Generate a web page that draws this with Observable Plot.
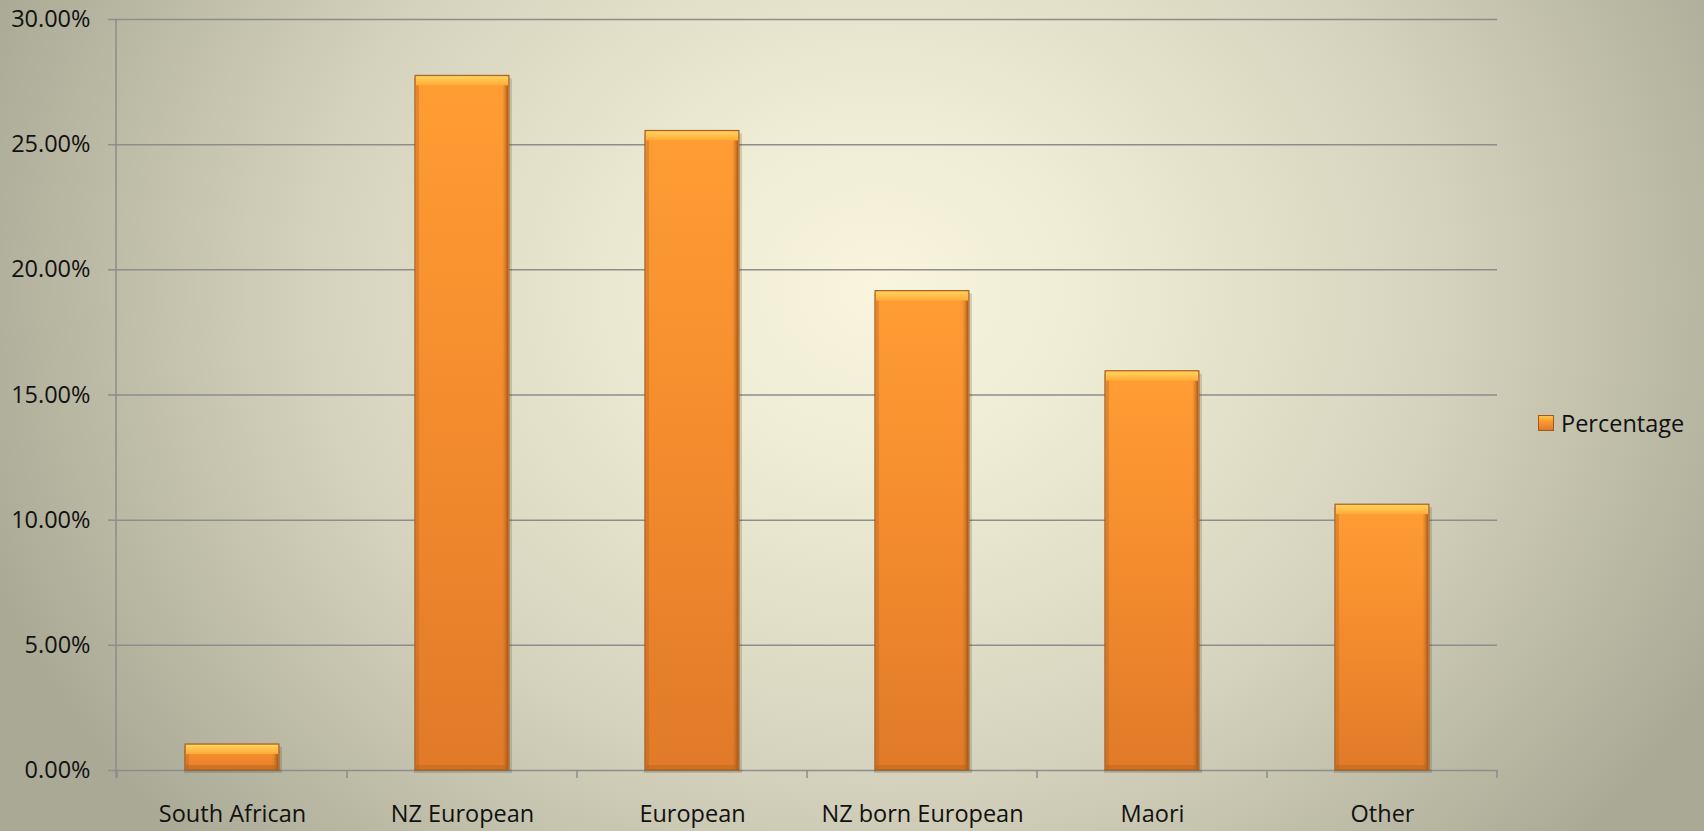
<!DOCTYPE html>
<html>
<head>
<meta charset="utf-8">
<script src="https://cdn.jsdelivr.net/npm/d3@7"></script>
<script src="https://cdn.jsdelivr.net/npm/@observablehq/plot@0.6"></script>
<style>
  html, body { margin: 0; padding: 0; }
  #wrap {
    position: relative;
    width: 1704px; height: 831px; overflow: hidden;
    background: radial-gradient(ellipse 950px 820px at 880px 290px, #f8f4de 0%, #efecd5 22%, #d6d4be 58%, #aaa995 100%);
    font-family: "Open Sans", sans-serif;
  }
  #legend {
    position: absolute; left: 1538px; top: 407px;
    display: flex; align-items: center; gap: 7px;
    font-size: 23.5px; color: #111; line-height: 32px;
  }
  #legend .sw {
    width: 16px; height: 16px; box-sizing: border-box;
    border: 1px solid #9a5a20;
    background: linear-gradient(180deg, #ffc64a 0%, #ff9c33 35%, #e07828 100%);
  }
</style>
</head>
<body>
<div id="wrap"></div>
<script>
// ---- data ----
const categories = ["South African", "NZ European", "European", "NZ born European", "Maori", "Other"];
const percentages = [1.04, 27.75, 25.55, 19.15, 15.95, 10.62];
const yTicks = [0, 5, 10, 15, 20, 25, 30];
const seriesName = "Percentage";

const data = categories.map((c, i) => ({category: c, value: percentages[i]}));

const GRID = "#8d8d8d";
const INSET = 68;

// custom mark: vertical axis line and category boundary ticks
function frameTicks(index, scales, values, dims) {
  const g = d3.create("svg:g").attr("stroke", GRID).attr("stroke-width", 1.5);
  const x = scales.x;
  const y0 = dims.height - dims.marginBottom;
  const n = categories.length;
  const step = (x.bandwidth ? x.bandwidth() : (dims.width - dims.marginLeft - dims.marginRight) / n);
  g.append("line")
    .attr("x1", dims.marginLeft).attr("x2", dims.marginLeft)
    .attr("y1", dims.marginTop).attr("y2", y0 + 8);
  const xs = categories.map(c => x(c)).concat([x(categories[n - 1]) + step]);
  xs.forEach(px => {
    g.append("line").attr("x1", px).attr("x2", px).attr("y1", y0).attr("y2", y0 + 8);
  });
  return g.node();
}

const chart = Plot.plot({
  width: 1704,
  height: 831,
  marginLeft: 116,
  marginRight: 207,
  marginTop: 19,
  marginBottom: 61,
  style: {fontFamily: "Open Sans, sans-serif", fontSize: "23.5px", color: "#111", background: "transparent", overflow: "visible"},
  x: {domain: categories, padding: 0, label: null},
  y: {domain: [0, 30], label: null},
  marks: [
    Plot.gridY(yTicks, {stroke: GRID, strokeOpacity: 1, strokeWidth: 1.5}),
    Plot.axisY(yTicks, {tickFormat: d => d.toFixed(2) + "%", tickSize: 8, tickPadding: 18, stroke: GRID, strokeWidth: 1.5, label: null}),
    Plot.axisX({tickSize: 0, tickPadding: 35, label: null}),
    frameTicks,
    // shadow
    Plot.barY(data, {x: "category", y: "value", fill: "#3a3020", fillOpacity: 0.18, insetLeft: INSET - 1, insetRight: INSET - 3, dy: 3}),
    // main bar
    Plot.barY(data, {x: "category", y: "value", fill: "url(#barGrad)", stroke: "#9a5a20", strokeWidth: 1, insetLeft: INSET, insetRight: INSET}),
    // left edge darkening
    Plot.barY(data, {x: "category", y: "value", fill: "#b8621c", fillOpacity: 0.35, insetLeft: INSET + 1, insetRight: 230 - INSET - 4, insetTop: 1}),
    // right edge darkening
    Plot.barY(data, {x: "category", y: "value", fill: "url(#edgeGrad)", insetLeft: 230 - INSET - 7, insetRight: INSET + 1, insetTop: 1}),
    // top bevel
    Plot.barY(data, {x: "category", y1: "value", y2: "value", fill: "url(#bevelGrad)", insetLeft: INSET + 1, insetRight: INSET + 1, insetBottom: -9, dy: 1}),
    // bottom bevel
    Plot.barY(data, {x: "category", y1: 0, y2: 0, fill: "#b8621c", fillOpacity: 0.45, insetLeft: INSET + 1, insetRight: INSET + 1, insetTop: -5})
  ]
});

const svg = d3.select(chart.tagName.toLowerCase() === "svg" ? chart : chart.querySelector("svg"));
const defs = svg.insert("defs", ":first-child");
const bg = defs.append("linearGradient").attr("id", "barGrad").attr("x1", 0).attr("y1", 0).attr("x2", 0).attr("y2", 1);
bg.append("stop").attr("offset", "0%").attr("stop-color", "#ff9d33");
bg.append("stop").attr("offset", "45%").attr("stop-color", "#f58d2e");
bg.append("stop").attr("offset", "100%").attr("stop-color", "#e07a28");
const eg = defs.append("linearGradient").attr("id", "edgeGrad").attr("x1", 0).attr("y1", 0).attr("x2", 1).attr("y2", 0);
eg.append("stop").attr("offset", "0%").attr("stop-color", "#d87420").attr("stop-opacity", 0);
eg.append("stop").attr("offset", "100%").attr("stop-color", "#9c5418").attr("stop-opacity", 0.9);
const tg = defs.append("linearGradient").attr("id", "bevelGrad").attr("x1", 0).attr("y1", 0).attr("x2", 0).attr("y2", 1);
tg.append("stop").attr("offset", "0%").attr("stop-color", "#ffd35e");
tg.append("stop").attr("offset", "100%").attr("stop-color", "#ffaa36");

const wrap = document.getElementById("wrap");
wrap.appendChild(chart);

const legend = document.createElement("div");
legend.id = "legend";
legend.innerHTML = `<span class="sw"></span><span>${seriesName}</span>`;
wrap.appendChild(legend);
</script>
</body>
</html>
